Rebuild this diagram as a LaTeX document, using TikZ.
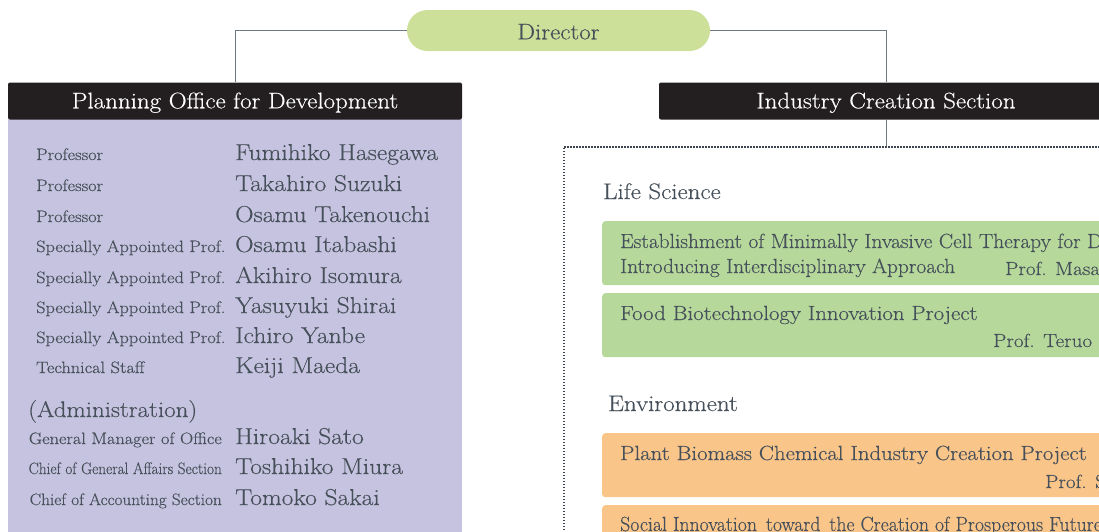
\documentclass[tikz,border=0pt]{standalone}
\usepackage{fontspec}
\setmainfont{Latin Modern Roman}[FakeStretch=1.11, FakeBold=0.35]
\usepackage{graphicx}
\definecolor{txt}{RGB}{70,80,90}
\definecolor{dirfill}{RGB}{205,224,154}
\definecolor{hdrfill}{RGB}{35,31,32}
\definecolor{panelfill}{RGB}{198,195,224}
\definecolor{greenfill}{RGB}{182,217,155}
\definecolor{orangefill}{RGB}{250,197,137}
\definecolor{linecol}{RGB}{110,120,128}
\definecolor{dotcol}{RGB}{60,68,78}
\begin{document}
\begin{tikzpicture}[x=1pt,y=-1pt,
  bigtext/.style={font=\fontsize{22.5}{27}\selectfont, text=txt, inner sep=0pt, anchor=base west},
  nametext/.style={font=\fontsize{23}{27}\selectfont, text=txt, inner sep=0pt, anchor=base west},
  boxtext/.style={font=\fontsize{20.5}{25}\selectfont, text=txt, inner sep=0pt, anchor=base west},
  proftext/.style={font=\fontsize{19}{23}\selectfont, text=txt, inner sep=0pt, anchor=base west},
  labtext/.style={font=\fontsize{16.5}{20}\selectfont, text=txt, inner sep=0pt, anchor=base west},
  admlab/.style={font=\fontsize{16.5}{20}\selectfont, text=txt, inner sep=0pt, anchor=base east},
  dirbox/.style={fill=dirfill, rounded corners=20.5pt, minimum width=303pt, minimum height=41pt,
     inner sep=0pt, text=txt, font=\fontsize{22.5}{27}\selectfont, text height=17.6pt, text depth=0pt},
  hdrbox/.style={fill=hdrfill, rounded corners=2pt, minimum width=454pt, minimum height=37pt,
     inner sep=0pt, text=white, font=\fontsize{22.5}{27}\selectfont, text height=14.6pt, text depth=0pt},
  panelbox/.style={fill=panelfill, anchor=north west, minimum width=454pt, minimum height=430pt, inner sep=0pt},
  greenbox/.style={fill=greenfill, rounded corners=3pt, anchor=north west, minimum width=540pt, minimum height=64pt, inner sep=0pt},
  orangebox/.style={fill=orangefill, rounded corners=3pt, anchor=north west, minimum width=540pt, minimum height=64pt, inner sep=0pt},
  dotbox/.style={draw=dotcol, line width=1.8pt, dash pattern=on 1.5pt off 1.5pt,
     anchor=north west, minimum width=600pt, minimum height=500pt, inner sep=0pt},
  conn/.style={draw=linecol, line width=1pt}
]
\useasboundingbox (0,0) rectangle (1099,531);
\clip (0,0) rectangle (1099,531);

% Director
\node[dirbox] (dir) at (558.5,30.5) {Director};

% Left panel
\node[panelbox] (panel) at (8,119) {};
\node[hdrbox] (plan) at (235,101) {Planning Office for Development};

% Right section
\node[hdrbox] (ind) at (886,101) {Industry Creation Section};
\node[dotbox] (dots) at (563,146) {};

% connectors
\draw[conn] (dir.west) -| (plan.north);
\draw[conn] (dir.east) -| (ind.north);
\draw[conn] (ind.south) -- (ind.south |- dots.north);

% Left panel rows
\foreach \i/\lab/\nm/\yy in {
  1/Professor/Fumihiko Hasegawa/160,
  2/Professor/Takahiro Suzuki/191,
  3/Professor/Osamu Takenouchi/222,
  4/Specially Appointed Prof./Osamu Itabashi/252,
  5/Specially Appointed Prof./Akihiro Isomura/283,
  6/Specially Appointed Prof./Yasuyuki Shirai/313,
  7/Specially Appointed Prof./Ichiro Yanbe/343,
  8/Technical Staff/Keiji Maeda/373}{
  \node[labtext] (lab\i) at (36,\yy) {\lab};
  \node[nametext] (name\i) at (235,\yy) {\nm};
}
\node[bigtext] (adm) at (28,417) {(Administration)};
\node[admlab] (alab1) at (222,444) {General Manager of Office};
\node[nametext] (aname1) at (235,444) {Hiroaki Sato};
\node[admlab] (alab2) at (222,474) {\scalebox{0.83}[1]{Chief of General Affairs Section}};
\node[nametext] (aname2) at (235,474) {Toshihiko Miura};
\node[admlab] (alab3) at (222,505) {\scalebox{0.94}[1]{Chief of Accounting Section}};
\node[nametext] (aname3) at (235,505) {Tomoko Sakai};

% Life Science
\node[bigtext] (life) at (603,199) {Life Science};
\node[greenbox] (g1) at (602,221) {};
\node[boxtext] (g1a) at (620,248) {\scalebox{0.94}[1]{Establishment of Minimally Invasive Cell Therapy for D}};
\node[boxtext] (g1b) at (620,273) {\scalebox{0.94}[1]{Introducing Interdisciplinary Approach}};
\node[proftext] (g1c) at (1005,275) {Prof. Masa};
\node[greenbox] (g2) at (602,293) {};
\node[boxtext] (g2a) at (620,320) {Food Biotechnology Innovation Project};
\node[proftext] (g2b) at (993,347) {Prof. Teruo I};

% Environment
\node[bigtext] (env) at (608,411) {Environment};
\node[orangebox] (o1) at (602,433) {};
\node[boxtext] (o1a) at (620,460) {Plant Biomass Chemical Industry Creation Project};
\node[proftext] (o1b) at (1045,488) {Prof. S};
\node[orangebox] (o2) at (602,505) {};
\node[boxtext] (o2a) at (620,531) {\scalebox{0.87}[1]{Social Innovation\hspace{0.5em}toward\hspace{0.5em}the Creation of Prosperous Future}};
\end{tikzpicture}
\end{document}
